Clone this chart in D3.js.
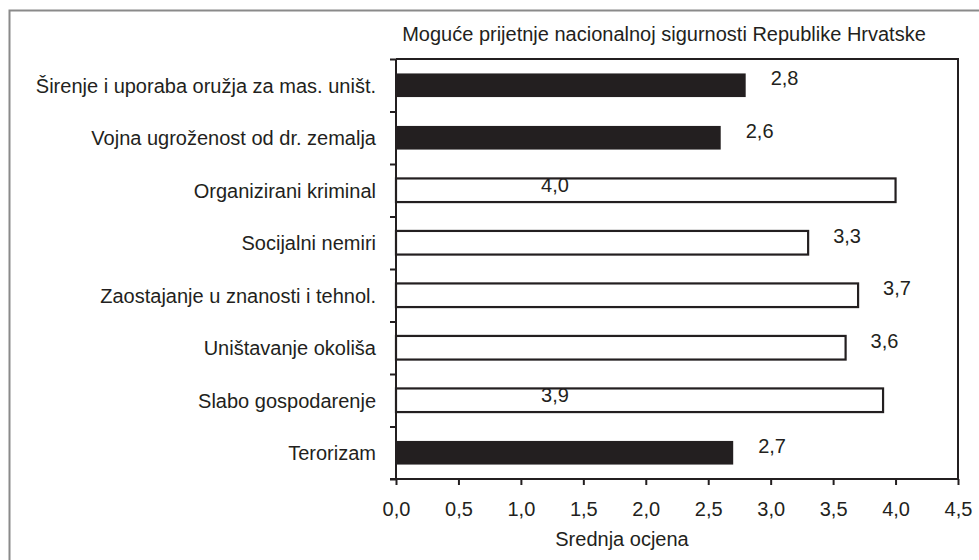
<!DOCTYPE html>
<html><head><meta charset="utf-8">
<script src="https://cdn.jsdelivr.net/npm/d3@7"></script>
<style>
body{margin:0;background:#fff;}
text{font-family:"Liberation Sans",Arial,sans-serif;fill:#231f20;}
</style></head>
<body><svg id="c" width="979" height="560"></svg>
<script>
const categories = ["Širenje i uporaba oružja za mas. uništ.","Vojna ugroženost od dr. zemalja","Organizirani kriminal","Socijalni nemiri","Zaostajanje u znanosti i tehnol.","Uništavanje okoliša","Slabo gospodarenje","Terorizam"];
const values = [2.8,2.6,4.0,3.3,3.7,3.6,3.9,2.7];
const dark = [true,true,false,false,false,false,false,true];
const insideLabel = [false,false,true,false,false,false,true,false];
const xTicks = [0,0.5,1,1.5,2,2.5,3,3.5,4,4.5];
const title = "Moguće prijetnje nacionalnoj sigurnosti Republike Hrvatske";
const xTitle = "Srednja ocjena";

const svg = d3.select("#c");
const m = {l:396, t:59, r:958, b:479};
const fs = 20;
const x = d3.scaleLinear().domain([0,4.5]).range([m.l,m.r]);
const y = d3.scaleBand().domain(categories).range([m.t,m.b]).paddingInner(0.55).paddingOuter(0.275);
const fmt = d => d3.format(".1f")(d).replace(".",",");

// outer frame
svg.append("path").attr("d",`M9.5,570V10.5H990`).attr("fill","none").attr("stroke","#8a8a8a").attr("stroke-width",2);

// title
svg.append("text").attr("x",664).attr("y",41).attr("text-anchor","middle").attr("font-size",fs).text(title);

// plot frame top/right
svg.append("path").attr("d",`M${m.l},${m.t}H${m.r}V${m.b}`).attr("fill","none").attr("stroke","#231f20").attr("stroke-width",2);

// bars
svg.append("g").selectAll("rect").data(values).join("rect")
  .attr("x",x(0)).attr("y",(d,i)=>y(categories[i]))
  .attr("width",d=>x(d)-x(0)).attr("height",y.bandwidth())
  .attr("fill",(d,i)=>dark[i]?"#231f20":"#fff")
  .attr("stroke","#231f20").attr("stroke-width",(d,i)=>dark[i]?0:2.2);

// value labels
svg.append("g").selectAll("text").data(values).join("text")
  .attr("x",(d,i)=>insideLabel[i]? x(0)+159 : x(d)+25)
  .attr("y",(d,i)=>y(categories[i])+y.bandwidth()/2 + (insideLabel[i]?2:0))
  .attr("text-anchor",(d,i)=>insideLabel[i]?"middle":"start")
  .attr("font-size",fs).text(d=>fmt(d));

// y axis
const yAxisScale = d3.scaleLinear().domain([0,categories.length]).range([m.t,m.b]);
const ya = svg.append("g").attr("transform",`translate(${m.l},0)`)
  .call(d3.axisLeft(yAxisScale).tickValues(d3.range(0,categories.length+1)).tickSize(6).tickFormat(""));
ya.selectAll("path,line").attr("stroke","#231f20").attr("stroke-width",2);
ya.select(".domain").attr("d",`M0,${m.t}V${m.b}`);
// category labels
svg.append("g").selectAll("text").data(categories).join("text")
  .attr("x",m.l-20).attr("y",d=>y(d)+y.bandwidth()/2).attr("dy","0.38em")
  .attr("text-anchor","end").attr("font-size",fs).text(d=>d);

// x axis
const xa = svg.append("g").attr("transform",`translate(0,${m.b})`)
  .call(d3.axisBottom(x).tickValues(xTicks).tickSize(6).tickPadding(16.5).tickFormat(fmt));
xa.selectAll("path,line").attr("stroke","#231f20").attr("stroke-width",2);
xa.select(".domain").attr("d",`M${m.l-6},0H${m.r}`);
xa.selectAll("text").attr("font-size",fs).attr("font-family","'Liberation Sans',Arial,sans-serif").attr("fill","#231f20");

svg.append("text").attr("x",622).attr("y",546).attr("text-anchor","middle").attr("font-size",fs).text(xTitle);
</script></body></html>
